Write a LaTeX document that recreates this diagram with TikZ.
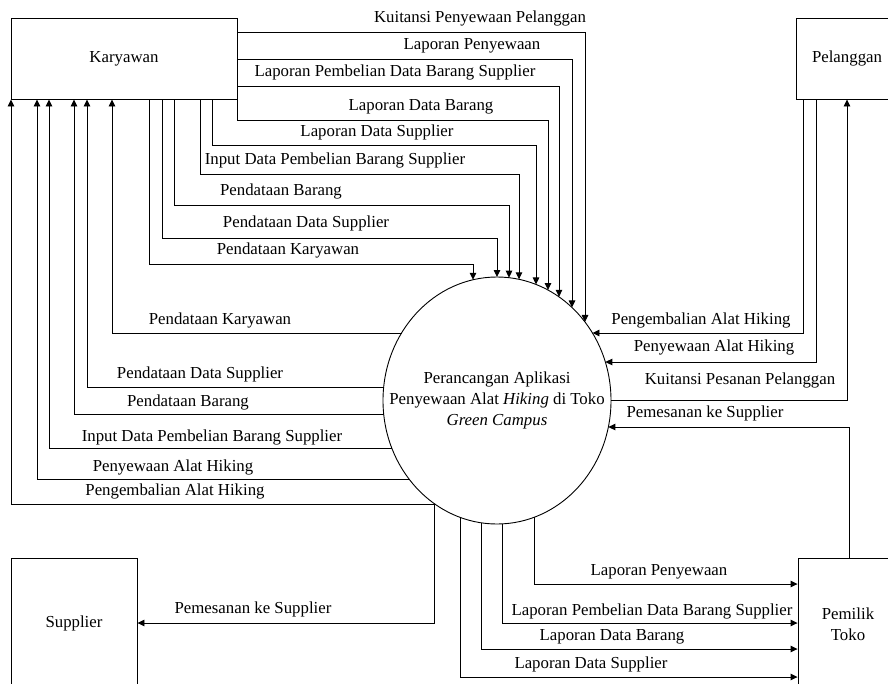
\documentclass[tikz,border=0pt]{standalone}
\usepackage{fontspec}
\setmainfont{Liberation Serif}
\usetikzlibrary{arrows.meta,shapes.geometric}

\begin{document}
\begin{tikzpicture}[
    x=1pt, y=-1pt,
    every node/.style={font=\fontsize{16.8}{21}\selectfont},
    >={Triangle[length=7pt,width=6.5pt]},
    line width=0.9pt,
    entity/.style={draw, rectangle, inner sep=0pt, align=center}
]

% Parameters (ellipse of the process)
\def\cx{497}
\def\cy{400.5}
\def\rx{114}
\def\ry{123.5}

\clip (0,0) rectangle (888,683);

% === Entities ===
\node[entity, minimum width=226pt, minimum height=81pt] (kar) at (124,58.5) {Karyawan};
\node[entity, minimum width=102pt, minimum height=81pt] (pel) at (847,58.5) {Pelanggan};
\node[entity, minimum width=126pt, minimum height=130pt] (sup) at (74,623) {Supplier};
\node[entity, minimum width=100pt, minimum height=132pt] (pem) at (848,624) {Pemilik\\Toko};

% === Process ===
\node[draw, ellipse, minimum width=228pt, minimum height=247pt, inner sep=0pt]
    (proc) at (\cx,\cy) {};
\node[align=center, inner sep=0pt] (proctxt) at (proc.center)
    {Perancangan Aplikasi\\Penyewaan Alat \textit{Hiking} di Toko\\\textit{Green Campus}};

% === Karyawan -> proses (right side of box) ===
\foreach \yy/\xx/\lx/\ly/\txt [count=\i] in {
    32/585/480/18/{Kuitansi Penyewaan Pelanggan},
    59/572/472/46/{Laporan Penyewaan},
    86/559/395/72/{Laporan Pembelian Data Barang Supplier}} {
    \pgfmathsetmacro{\ye}{\cy-\ry*sqrt(1-((\xx-\cx)/\rx)^2)}
    \draw[->] (kar.east |- 0,\yy) -| (\xx,\ye);
    \node (lka\i) at (\lx,\ly) {\txt};
}

% === Karyawan -> proses (bottom of box) ===
\foreach \xs/\yy/\xx/\lx/\ly/\txt [count=\i] in {
    237/120/548/421/107/{Laporan Data Barang},
    212/145/536/377/132/{Laporan Data Supplier},
    200/174/519/335/160/{Input Data Pembelian Barang Supplier},
    174/205/509/281/191/{Pendataan Barang},
    162/238/497/306/223/{Pendataan Data Supplier},
    149/264/473/288/250/{Pendataan Karyawan}} {
    \pgfmathsetmacro{\ye}{\cy-\ry*sqrt(1-((\xx-\cx)/\rx)^2)}
    \draw[->] (kar.south -| \xs,0) |- (\xx,\yy) -- (\xx,\ye);
    \node (lkb\i) at (\lx,\ly) {\txt};
}

% === Proses -> Karyawan ===
\foreach \yy/\xk/\lx/\ly/\txt [count=\i] in {
    333/112/220/320/{Pendataan Karyawan},
    387/87/200/374/{Pendataan Data Supplier},
    414/74/188/402/{Pendataan Barang},
    448/49/212/437/{Input Data Pembelian Barang Supplier},
    479/37/173/467/{Penyewaan Alat Hiking},
    504/11/175/491/{Pengembalian Alat Hiking}} {
    \pgfmathsetmacro{\xe}{\cx-\rx*sqrt(1-((\yy-\cy)/\ry)^2)}
    \draw[->] (\xe,\yy) -| (kar.south -| \xk,0);
    \node (lkc\i) at (\lx,\ly) {\txt};
}

% === Pelanggan <-> proses ===
\foreach \xs/\yy/\lx/\ly/\txt [count=\i] in {
    803/333/701/320/{Pengembalian Alat Hiking},
    816/362/714/347/{Penyewaan Alat Hiking}} {
    \pgfmathsetmacro{\xe}{\cx+\rx*sqrt(1-((\yy-\cy)/\ry)^2)}
    \draw[->] (pel.south -| \xs,0) |- (\xe,\yy);
    \node (lpl\i) at (\lx,\ly) {\txt};
}

\pgfmathsetmacro{\xe}{\cx+\rx*sqrt(1-((400-\cy)/\ry)^2)}
\draw[->] (\xe,400) -| (pel.south -| 847,0);
\node (lpl3) at (740,380) {Kuitansi Pesanan Pelanggan};

% === Pemilik Toko -> proses ===
\pgfmathsetmacro{\xe}{\cx+\rx*sqrt(1-((427-\cy)/\ry)^2)}
\draw[->] (pem.north -| 849,0) |- (\xe,427);
\node (lpm0) at (705,413) {Pemesanan ke Supplier};

% === Proses -> Supplier ===
\pgfmathsetmacro{\xe}{\cx-\rx*sqrt(1-((504-\cy)/\ry)^2)}
\draw[->] (\xe,504) |- (sup.east);
\node (lsp) at (253,609) {Pemesanan ke Supplier};

% === Proses -> Pemilik Toko ===
\foreach \xx/\yy/\lx/\ly/\txt [count=\i] in {
    534/584/659/572/{Laporan Penyewaan},
    502/623/652/611/{Laporan Pembelian Data Barang Supplier},
    481/649/612/637/{Laporan Data Barang},
    460/677/591/664/{Laporan Data Supplier}} {
    \pgfmathsetmacro{\ye}{\cy+\ry*sqrt(1-((\xx-\cx)/\rx)^2)}
    \draw[->] (\xx,\ye) |- (pem.west |- 0,\yy);
    \node (lpm\i) at (\lx,\ly) {\txt};
}

\end{tikzpicture}
\end{document}
